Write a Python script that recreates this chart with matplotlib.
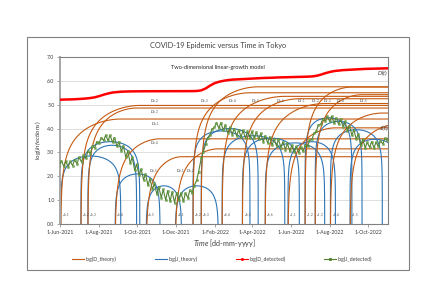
import numpy as np
import pandas as pd
import matplotlib
matplotlib.use("Agg")
from matplotlib import pyplot as plt
import matplotlib.dates as mdates
from matplotlib.lines import Line2D
from matplotlib.patches import Rectangle

plt.rcParams["font.family"] = ["Lato", "DejaVu Sans"]
plt.rcParams["mathtext.fontset"] = "custom"
plt.rcParams["mathtext.rm"] = "Lato"
plt.rcParams["mathtext.it"] = "Lato:italic"

# weekly detected data, one row per week starting Monday 31 May 2021
week_start = "2021-05-31"
j_low = [2.45, 2.42, 2.40, 2.45, 2.52, 2.60, 2.75, 2.95, 3.20, 3.40,
         3.50, 3.50, 3.42, 3.25, 3.05, 2.80, 2.55, 2.25, 2.05, 1.85,
         1.62, 1.45, 1.25, 1.10, 1.00, 0.95, 0.90, 1.00, 0.95, 1.10,
         1.30, 1.85, 2.75, 3.35, 3.75, 4.05, 4.02, 3.92, 3.82, 3.75,
         3.70, 3.65, 3.60, 3.62, 3.60, 3.55, 3.45, 3.40, 3.30, 3.28,
         3.20, 3.12, 3.05, 3.00, 2.98, 3.05, 3.25, 3.55, 3.90, 4.18,
         4.30, 4.30, 4.22, 4.18, 4.08, 3.90, 3.72, 3.55, 3.30, 3.20,
         3.22, 3.20, 3.25, 3.35, 3.50]
j_high = [2.65, 2.63, 2.62, 2.70, 2.80, 2.88, 3.05, 3.25, 3.45, 3.62,
          3.72, 3.72, 3.62, 3.45, 3.28, 3.05, 2.80, 2.50, 2.30, 2.10,
          1.90, 1.70, 1.55, 1.45, 1.40, 1.35, 1.30, 1.30, 1.30, 1.42,
          1.60, 2.20, 3.00, 3.60, 3.98, 4.25, 4.25, 4.15, 4.05, 4.00,
          3.95, 3.92, 3.88, 3.88, 3.85, 3.80, 3.70, 3.65, 3.55, 3.55,
          3.45, 3.38, 3.30, 3.25, 3.22, 3.30, 3.50, 3.80, 4.15, 4.42,
          4.52, 4.52, 4.45, 4.40, 4.30, 4.12, 3.95, 3.78, 3.55, 3.42,
          3.45, 3.42, 3.48, 3.60, 3.75]
d_detected = [5.21, 5.215, 5.22, 5.225, 5.235, 5.245, 5.26, 5.28, 5.31, 5.36,
              5.42, 5.47, 5.51, 5.53, 5.545, 5.552, 5.557, 5.56, 5.562, 5.563,
              5.564, 5.565, 5.565, 5.566, 5.566, 5.567, 5.567, 5.568, 5.568, 5.569,
              5.57, 5.575, 5.60, 5.68, 5.80, 5.90, 5.96, 6.00, 6.03, 6.05,
              6.06, 6.07, 6.08, 6.09, 6.10, 6.11, 6.12, 6.125, 6.13, 6.14,
              6.145, 6.15, 6.155, 6.16, 6.165, 6.17, 6.175, 6.185, 6.21, 6.26,
              6.32, 6.37, 6.41, 6.43, 6.45, 6.46, 6.47, 6.48, 6.49, 6.50,
              6.505, 6.51, 6.515, 6.52, 6.525]

# model clusters: start, end, peak of log J, plateau of log D
clusters = ["a,1", "a,2", "a,3", "a,4", "a,5",
            "b,1", "b,2", "b,3", "b,4", "b,5", "b,6",
            "c,1", "c,2", "c,3", "c,4", "c,5"]
j_start = ["2021-06-02", "2021-07-04", "2021-07-15", "2021-08-27", "2021-10-15",
           "2021-11-30", "2021-12-28", "2022-01-10", "2022-02-12", "2022-03-16", "2022-04-21",
           "2022-05-27", "2022-06-23", "2022-07-09", "2022-08-02", "2022-09-02"]
j_end = ["2021-09-05", "2021-10-05", "2021-09-30", "2021-11-06", "2021-12-10",
         "2022-02-06", "2022-03-28", "2022-04-10", "2022-05-22", "2022-06-14", "2022-07-24",
         "2022-08-10", "2022-09-05", "2022-09-21", "2022-10-23", "2022-11-20"]
j_peak = [2.85, 3.45, 3.30, 2.10, 1.60,
          1.60, 3.90, 4.00, 3.70, 3.60, 3.40,
          3.45, 4.45, 4.30, 3.95, 3.55]
d_plateau = [4.40, 4.97, 4.86, 3.57, 2.82,
             3.15, 5.50, 5.75, 5.35, 5.25, 5.05,
             4.03, 5.74, 5.42, 4.65, 4.20]

# label placement for D curves
d_label_date = ["2021-10-29", "2021-10-29", "2021-10-29", "2021-10-29", "2021-10-26",
                "2021-12-08", "2021-12-24", "2022-01-16", "2022-03-01", "2022-04-05", "2022-05-15",
                "2022-06-18", "2022-07-09", "2022-07-28", "2022-08-18", "2022-09-23"]
d_label_y = [4.20, 5.17, 4.68, 3.38, 2.20,
             2.20, 2.20, 5.17, 5.17, 5.17, 5.17,
             5.17, 5.17, 5.17, 5.17, 5.17]

tick_dates = ["2021-06-01", "2021-08-01", "2021-10-01", "2021-12-01", "2022-02-01",
              "2022-04-01", "2022-06-01", "2022-08-01", "2022-10-01"]
x_min, x_max = pd.Timestamp("2021-06-01"), pd.Timestamp("2022-11-01")

c_d = "#C55A11"
c_j = "#2E75B6"
c_red = "#FF0000"
c_green = "#548235"

fig = plt.figure(figsize=(4.36, 3.08), dpi=100)
fig.patches.append(Rectangle((0.062, 0.123), 0.876, 0.757, transform=fig.transFigure,
                             fill=False, edgecolor="#808080", lw=0.8))
ax = fig.add_axes([0.1376, 0.2727, 0.7523, 0.5423])

mondays = pd.date_range(week_start, periods=len(j_low), freq="7D")
thursdays = mondays + pd.Timedelta(days=3)
g_dates = []
g_vals = []
for m, t, lo, hi in zip(mondays, thursdays, j_low, j_high):
    g_dates += [m, t]
    g_vals += [lo, hi]

# theory curves, sampled more densely near both ends of each cluster
uu = (1 - np.cos(np.linspace(0, np.pi, 800))) / 2
uu = uu[1:-1]
for name, s, e, p, pl in zip(clusters, j_start, j_end, j_peak, d_plateau):
    t0 = mdates.date2num(pd.Timestamp(s))
    t1 = mdates.date2num(pd.Timestamp(e))
    tt = t0 + uu * (t1 - t0)
    logj = p + np.log10(4 * uu * (1 - uu))
    ax.plot(tt, logj, color=c_j, lw=0.8, zorder=2)
    td = np.append(tt, mdates.date2num(x_max) + 30)
    dd = np.append(pl + np.log10(3 * uu**2 - 2 * uu**3), pl)
    ax.plot(td, dd, color=c_d, lw=0.8, zorder=2)
    ax.text(t0 + 2, 0.35, r"$J_{%s}$" % name, fontsize=3, color="#404040", zorder=5)

for name, ld, ly in zip(clusters, d_label_date, d_label_y):
    ax.text(mdates.date2num(pd.Timestamp(ld)), ly, r"$D_{%s}$" % name, fontsize=3,
            color="#404040", ha="center", va="center", zorder=5)

ax.plot(mondays, d_detected, color=c_red, lw=1.8, zorder=4)
ax.plot(g_dates, g_vals, color=c_green, lw=0.8, marker="s", markersize=1.3,
        markerfacecolor="#70AD47", markeredgecolor=c_green, markeredgewidth=0.3, zorder=3)

ax.text(mdates.date2num(pd.Timestamp("2022-10-14")), 6.22, r"$D(t)$", fontsize=4.2, color="#404040")
ax.text(mdates.date2num(pd.Timestamp("2022-10-18")), 3.92, r"$J(t)$", fontsize=4.2, color="#404040",
        zorder=6)
ax.text(0.48, 0.94, "Two-dimensional linear-growth model", transform=ax.transAxes,
        fontsize=4.1, ha="center", va="center", color="#262626")

ax.set_xlim(x_min, x_max)
ax.set_ylim(0, 7)
ax.set_yticks(np.arange(0, 8, 1))
ax.set_yticklabels([f"{v:.1f}" for v in range(8)])
ax.set_xticks([pd.Timestamp(d) for d in tick_dates])
ax.xaxis.set_major_formatter(mdates.DateFormatter("%-d-%b-%Y"))
ax.tick_params(labelsize=3.8, length=2, width=0.5, color="#808080", labelcolor="#404040", pad=2)
ax.grid(axis="y", color="#D9D9D9", lw=0.6)
ax.set_axisbelow(True)
for side in ["top", "right", "bottom"]:
    ax.spines[side].set_color("#808080")
    ax.spines[side].set_linewidth(0.8)
ax.spines["left"].set_color("#A6A6A6")
ax.spines["left"].set_linewidth(1.4)

ax.set_ylabel(r"log($\it{Infections}$)", fontsize=4.6, color="#404040", labelpad=3)
ax.set_xlabel(r"$\it{Time}$ [dd-mm-yyyy]", fontsize=5.2, color="#404040", labelpad=2)
fig.text(0.5, 0.851, "COVID-19 Epidemic versus Time in Tokyo", fontsize=5.3,
         ha="center", va="center", color="#404040")

handles = [
    Line2D([], [], color=c_d, lw=0.8),
    Line2D([], [], color=c_j, lw=0.8),
    Line2D([], [], color=c_red, lw=0.8, marker="x", markersize=1.5),
    Line2D([], [], color=c_green, lw=0.8, marker="s", markersize=1.2, markerfacecolor="#70AD47"),
]
labels = ["log(D_theory)", "log(J_theory)", "log(D_detected)", "log(J_detected)"]
fig.legend(handles, labels, loc="center", bbox_to_anchor=(0.51, 0.159), ncol=4, frameon=False,
           fontsize=3.7, columnspacing=7.5, handlelength=2.2, handletextpad=0.4,
           labelcolor="#404040")

fig.savefig("out.png", dpi=100)
